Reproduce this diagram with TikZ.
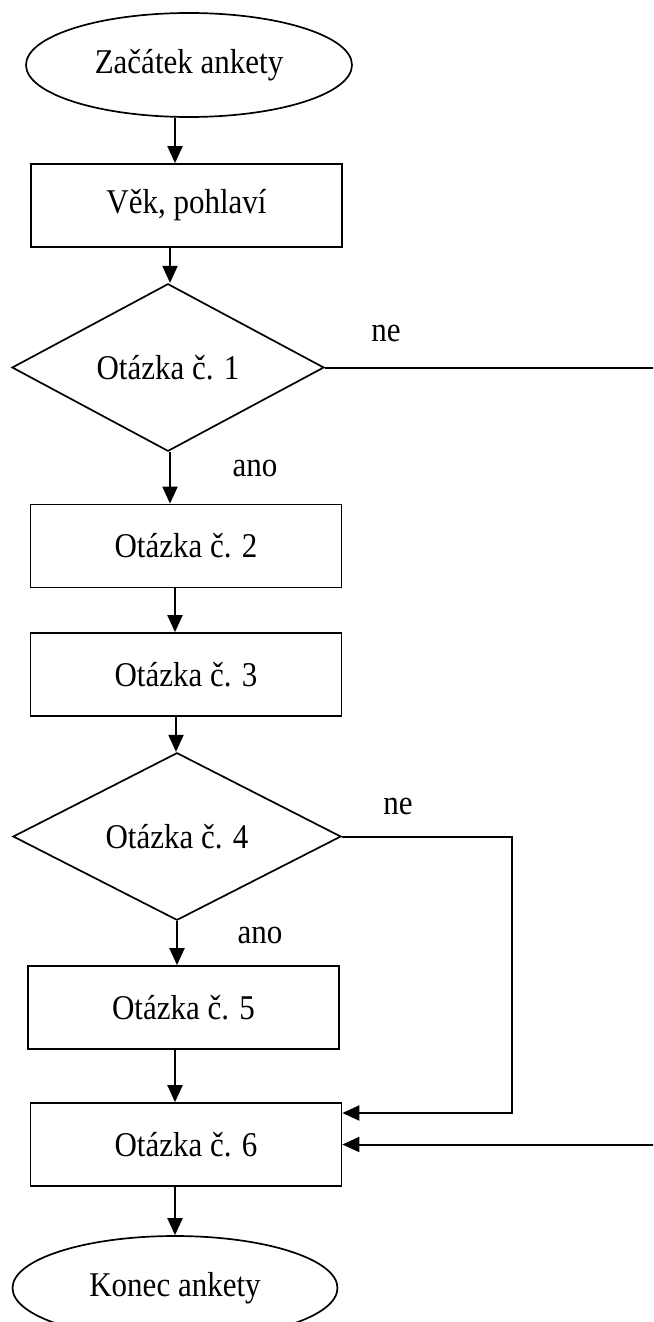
\documentclass[tikz,border=0pt]{standalone}
\usepackage{fontspec}
\usepackage{graphicx}
\setmainfont{Liberation Serif}
\usetikzlibrary{shapes.geometric,arrows.meta}
\newcommand\vst[1]{\scalebox{1}[1.12]{#1}}
\begin{document}
\begin{tikzpicture}[x=1pt,y=-1pt,
  every node/.style={font=\fontsize{31}{36}\selectfont},
  shp/.style={draw, line width=1.7pt, inner sep=0pt},
  term/.style={shp, ellipse, minimum width=326pt, minimum height=104pt},
  proc/.style={shp, rectangle, minimum width=311pt, minimum height=83pt},
  dec/.style={shp, diamond, minimum width=312pt, minimum height=155pt},
  conn/.style={line width=2pt},
  arr/.style={conn, -{Triangle[length=17pt,width=15pt]}},
  lbl/.style={inner sep=0pt}]
\useasboundingbox (0,0) rectangle (653,1322);
\clip (0,0) rectangle (653,1322);
% nodes
\node[term] (start) at (189,65) {\vst{Začátek ankety}};
\node[proc] (q0) at (186.5,205.5) {\vst{Věk, pohlaví}};
\node[dec] (q1) at (168,367.5) {\vst{Otázka č. 1}};
\node[proc] (q2) at (186,546) {\vst{Otázka č. 2}};
\node[proc] (q3) at (186,674.5) {\vst{Otázka č. 3}};
\node[dec, minimum width=328pt, minimum height=157pt] (q4) at (177,836.5) {\vst{Otázka č. 4}};
\node[proc] (q5) at (183.5,1007.5) {\vst{Otázka č. 5}};
\node[proc] (q6) at (186,1144.5) {\vst{Otázka č. 6}};
\node[term, minimum width=325pt] (end) at (175,1288) {\vst{Konec ankety}};
% labels
\node[lbl] (ne1) at (386,333) {\vst{ne}};
\node[lbl] (ano1) at (255,468) {\vst{ano}};
\node[lbl] (ne4) at (398,806) {\vst{ne}};
\node[lbl] (ano4) at (260,935) {\vst{ano}};
% columns
\coordinate (ca) at (175,0);
\coordinate (cb) at (170,0);
\coordinate (cc) at (176,0);
\coordinate (cd) at (177,0);
\coordinate (v4) at (512,1113);
\coordinate (r1) at (660,367.5);
\coordinate (r6) at (660,1144.5);
% connectors
\draw[arr] (start.south -| ca) -- (q0.north -| ca);
\draw[arr] (q0.south -| cb) -- (q1.north -| cb);
\draw[arr] (q1.south -| cb) -- (q2.north -| cb);
\draw[arr] (q2.south -| ca) -- (q3.north -| ca);
\draw[arr] (q3.south -| cc) -- (q4.north -| cc);
\draw[arr] (q4.south -| cd) -- (q5.north -| cd);
\draw[arr] (q5.south -| ca) -- (q6.north -| ca);
\draw[arr] (q6.south -| ca) -- (end.north -| ca);
\draw[conn] (q1.east) -- (r1);
\draw[arr] (q4.east) -| (v4) -- (v4 -| q6.east);
\draw[arr] (r6) -- (q6.east);
\end{tikzpicture}
\end{document}
